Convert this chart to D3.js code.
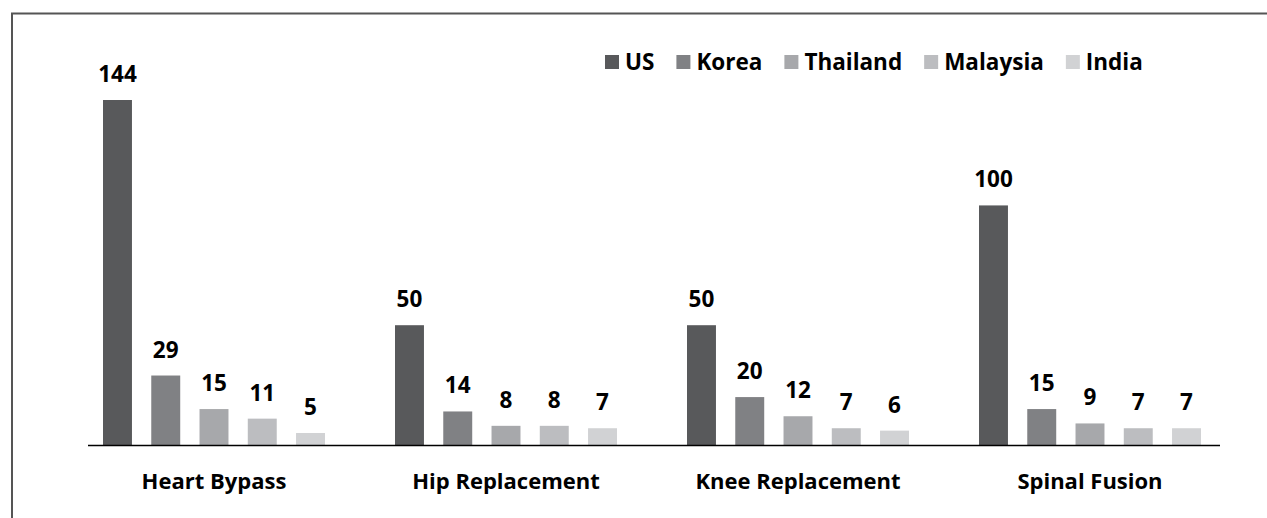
<!DOCTYPE html>
<html lang="en">
<head>
<meta charset="utf-8">
<title>Procedure costs by country</title>
<script src="https://cdn.jsdelivr.net/npm/d3@7"></script>
<style>
  body { margin: 0; background: #fff; }
  text { font-family: "Open Sans", "DejaVu Sans", sans-serif; font-weight: bold; fill: #000; }
</style>
</head>
<body>
<script>
// data
var procedures = ["Heart Bypass", "Hip Replacement", "Knee Replacement", "Spinal Fusion"];
var countries = ["US", "Korea", "Thailand", "Malaysia", "India"];
var usValues = [144, 50, 50, 100];
var koreaValues = [29, 14, 20, 15];
var thailandValues = [15, 8, 12, 9];
var malaysiaValues = [11, 8, 7, 7];
var indiaValues = [5, 7, 6, 7];
var colors = ["#58595b", "#808184", "#a7a8ab", "#bcbdc0", "#d1d2d4"];

var series = [usValues, koreaValues, thailandValues, malaysiaValues, indiaValues];

var w = 1267, h = 518;
var baseY = 445;

var svg = d3.select("body").append("svg")
    .attr("width", w)
    .attr("height", h);

// frame
svg.append("path")
   .attr("d", "M12,518 V13.5 H1267")
   .attr("fill", "none")
   .attr("stroke", "#555")
   .attr("stroke-width", 2);

var x0 = d3.scaleBand().domain(procedures).range([68, 1236]);
var x1 = d3.scaleBand().domain(countries).range([35, 257]).paddingInner(0.4);
var y = d3.scaleLinear().domain([0, 144]).range([baseY, 100]);

var groups = svg.selectAll("g.group")
    .data(procedures)
    .enter().append("g")
    .attr("class", "group")
    .attr("transform", function(d) { return "translate(" + x0(d) + ",0)"; });

groups.selectAll("rect")
    .data(function(d, i) {
        return countries.map(function(c, j) { return {c: c, v: series[j][i], k: j}; });
    })
    .enter().append("rect")
    .attr("x", function(d) { return x1(d.c); })
    .attr("width", x1.bandwidth())
    .attr("y", function(d) { return y(d.v); })
    .attr("height", function(d) { return baseY - y(d.v); })
    .attr("fill", function(d) { return colors[d.k]; });

groups.selectAll("text.val")
    .data(function(d, i) {
        return countries.map(function(c, j) { return {c: c, v: series[j][i]}; });
    })
    .enter().append("text")
    .attr("class", "val")
    .attr("x", function(d) { return x1(d.c) + x1.bandwidth() / 2; })
    .attr("y", function(d) { return y(d.v) - 18; })
    .attr("text-anchor", "middle")
    .attr("font-size", 22.5)
    .text(function(d) { return d.v; });

// baseline
svg.append("line")
   .attr("x1", 88).attr("x2", 1220)
   .attr("y1", baseY + 0.5).attr("y2", baseY + 0.5)
   .attr("stroke", "#000")
   .attr("stroke-width", 1.5);

// category labels
svg.selectAll("text.cat")
   .data(procedures)
   .enter().append("text")
   .attr("class", "cat")
   .attr("x", function(d) { return x0(d) + 146; })
   .attr("y", 489)
   .attr("text-anchor", "middle")
   .attr("font-size", 22)
   .text(function(d) { return d; });

// legend
var legend = svg.append("g").attr("transform", "translate(605,0)");
var lx = 0;
countries.forEach(function(c, i) {
    var item = legend.append("g").attr("transform", "translate(" + lx + ",0)");
    item.append("rect")
        .attr("x", 0).attr("y", 55)
        .attr("width", 14).attr("height", 14)
        .attr("fill", colors[i]);
    var t = item.append("text")
        .attr("x", 20).attr("y", 70)
        .attr("font-size", 22.5)
        .text(c);
    lx += 20 + t.node().getComputedTextLength() + 22;
});
</script>
</body>
</html>
